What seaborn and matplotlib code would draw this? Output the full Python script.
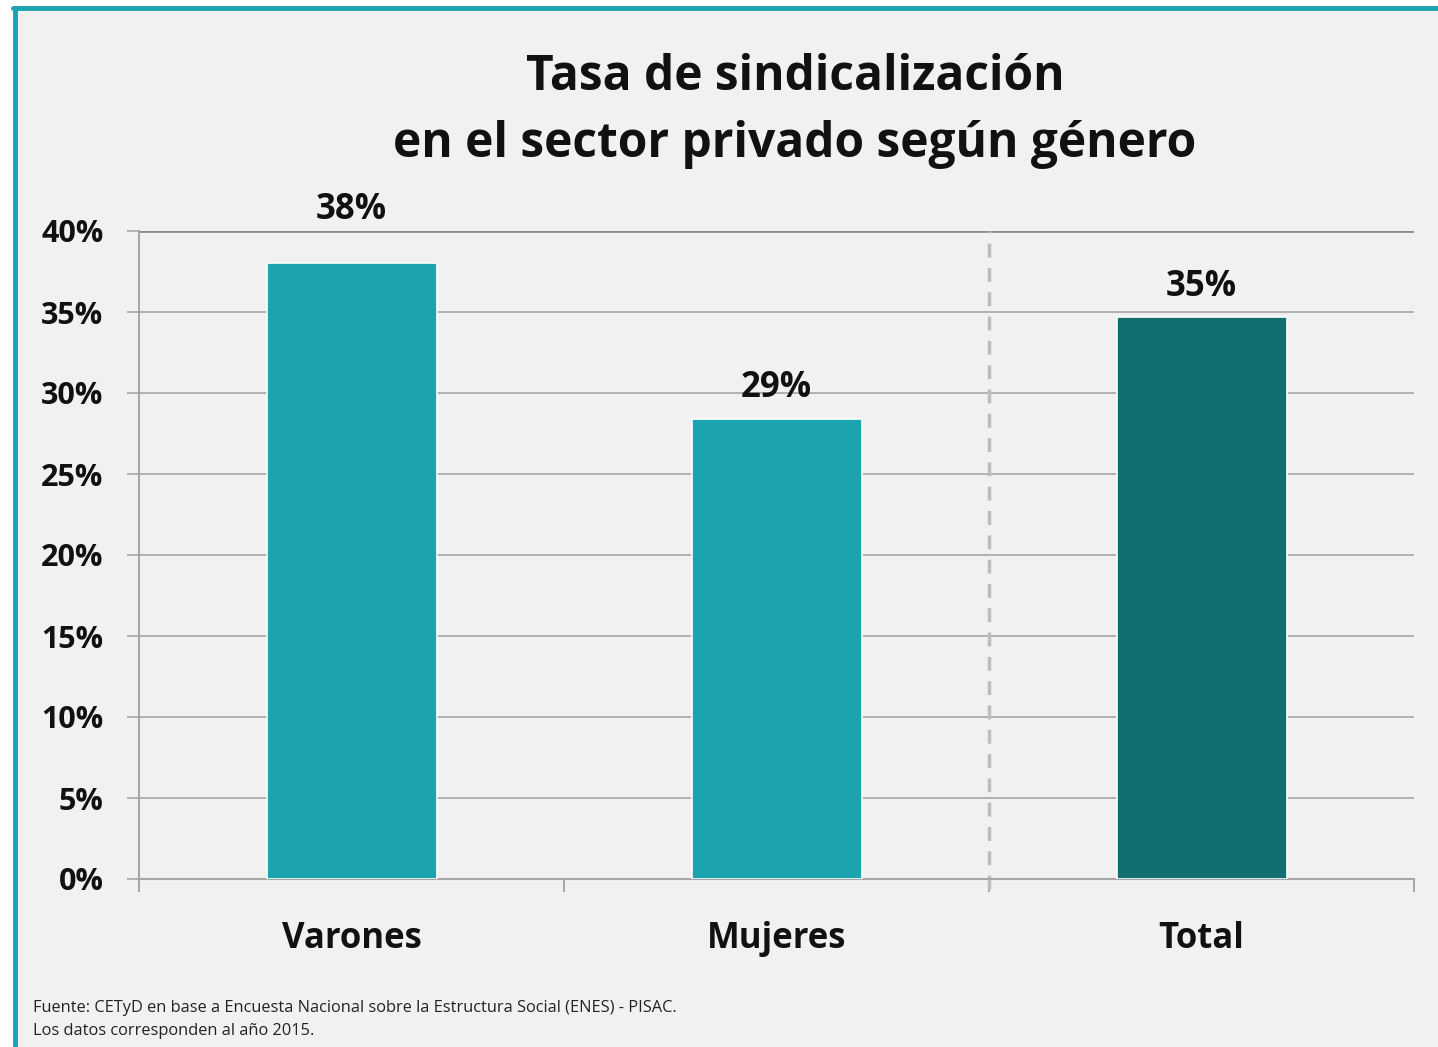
import matplotlib
matplotlib.use("Agg")
import matplotlib.pyplot as plt
import seaborn as sns
import pandas as pd
from matplotlib.patches import Rectangle
from matplotlib.lines import Line2D

categories = ["Varones", "Mujeres", "Total"]
values = [38, 28.4, 34.7]
value_labels = ["38%", "29%", "35%"]
bar_colors = ["#1ba3ae", "#1ba3ae", "#11706f"]
yticks = [0, 5, 10, 15, 20, 25, 30, 35, 40]
ytick_labels = ["0%", "5%", "10%", "15%", "20%", "25%", "30%", "35%", "40%"]
title = "Tasa de sindicalización\nen el sector privado según género"
footer1 = "Fuente: CETyD en base a Encuesta Nacional sobre la Estructura Social (ENES) - PISAC."
footer2 = "Los datos corresponden al año 2015."

sns.set_theme(style="white")
plt.rcParams['font.family'] = ['Open Sans', 'DejaVu Sans']

W, H = 1438, 1047
bg = "#f1f1f1"
fig = plt.figure(figsize=(W / 100, H / 100), dpi=100, facecolor="white")

# background panel with teal border (top and left)
fig.patches.append(Rectangle((15 / W, 0), 1, 1 - 8 / H, transform=fig.transFigure,
                             facecolor=bg, edgecolor="none", zorder=-10))
fig.lines.append(Line2D([15 / W, 15 / W], [0, 1 - 8 / H], transform=fig.transFigure,
                        color="#1ba3ae", lw=3.5, zorder=-5))
fig.lines.append(Line2D([13 / W, 1], [1 - 8 / H, 1 - 8 / H], transform=fig.transFigure,
                        color="#1ba3ae", lw=3.5, zorder=-5))

left, right = 139 / W, 1414 / W
bottom, top = 1 - 879 / H, 1 - 231 / H
ax = fig.add_axes([left, bottom, right - left, top - bottom])
ax.set_facecolor(bg)

df = pd.DataFrame({"cat": categories, "val": values})
sns.barplot(data=df, x="cat", y="val", hue="cat", palette=bar_colors, width=0.4,
            edgecolor="white", linewidth=1.2, legend=False, ax=ax, zorder=3, saturation=1)

ax.set_xlim(-0.5, 2.5)
ax.set_ylim(0, 40)
ax.set_yticks(yticks)
ax.set_yticklabels(ytick_labels, fontsize=22, fontweight="bold", color="#111111")
ax.yaxis.grid(True, color="#a6a6a6", lw=1.2, zorder=0)
ax.set_axisbelow(True)
ax.tick_params(axis="y", length=8.6, width=1.2, color="#a6a6a6", pad=17, left=True)

ax.set_xticks([0, 1, 2])
ax.set_xticklabels(categories, fontsize=25, fontweight="bold", color="#111111")
ax.tick_params(axis="x", length=0, pad=30)
ax.set_xticks([-0.5, 0.5, 1.5, 2.5], minor=True)
ax.tick_params(axis="x", which="minor", length=9, width=1.2, color="#999999", bottom=True)

ax.set_xlabel("")
ax.set_ylabel("")
for s in ["top", "right"]:
    ax.spines[s].set_visible(False)
ax.spines["left"].set_color("#999999")
ax.spines["left"].set_linewidth(1.2)
ax.spines["bottom"].set_color("#a6a6a6")
ax.spines["bottom"].set_linewidth(1.5)
ax.axhline(40, color="#8c8c8c", lw=2, zorder=1)

ax.axvline(1.5, color="#bdbdbd", lw=2.5, ls=(0, (4, 3)), zorder=2, ymin=-0.015, clip_on=False)

label_offsets = [38.5, 22, 21.5]
for i, (v, lab, off) in enumerate(zip(values, value_labels, label_offsets)):
    ax.annotate(lab, (i, v), xytext=(0, off), textcoords="offset points",
                ha="center", va="center", fontsize=25, fontweight="bold", color="#111111",
                annotation_clip=False)

fig.text(795 / W, 1 - 111 / H, title, ha="center", va="center", fontsize=34.5,
         fontweight="bold", color="#111111", linespacing=1.48)

fig.text(33 / W, 1 - 1008 / H, footer1, ha="left", va="center", fontsize=11.8, color="#222222")
fig.text(33 / W, 1 - 1031 / H, footer2, ha="left", va="center", fontsize=11.8, color="#222222")

fig.savefig("out.png", dpi=100, facecolor="white")
